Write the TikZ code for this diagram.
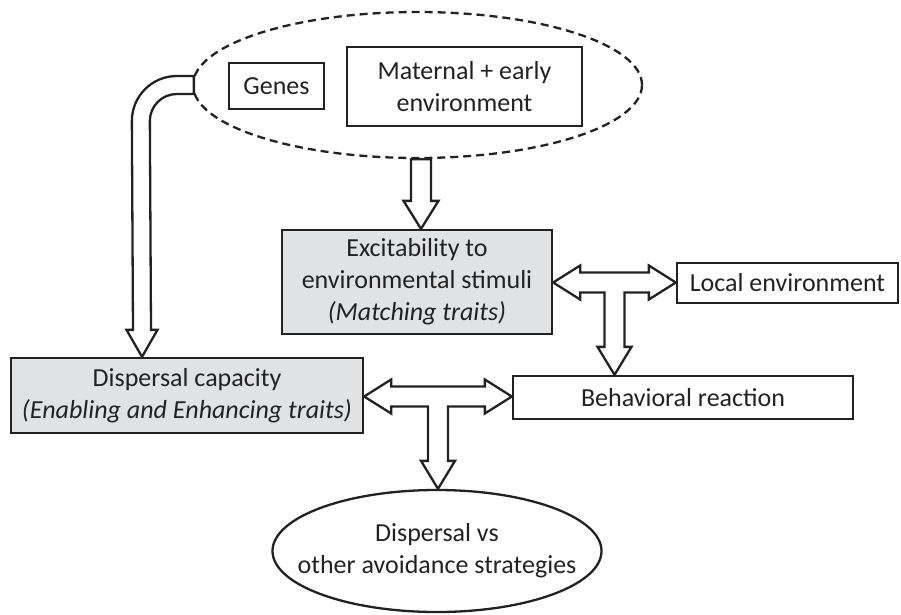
\documentclass[tikz,border=0pt]{standalone}
\usepackage{fontspec}
\setmainfont{Carlito}
\usetikzlibrary{shapes.geometric,calc}
\definecolor{boxgray}{HTML}{E1E2E4}
\definecolor{ink}{HTML}{222222}
\newcommand\Tblock[3]{%
 \draw[blk] let \p1=(#1.east), \p2=(#2.west), \p3=(#3.north), \p4=($(\p1)!.5!(\p2)$) in
 (\x1,\y4) -- (\x1+27pt,\y4+17pt) -- (\x1+27pt,\y4+10pt) -- (\x2-27pt,\y4+10pt) -- (\x2-27pt,\y4+17pt)
 -- (\x2,\y4) -- (\x2-27pt,\y4-17pt) -- (\x2-27pt,\y4-10pt) -- (\x4+10pt,\y4-10pt) -- (\x4+10pt,\y3+28pt)
 -- (\x4+17pt,\y3+28pt) -- (\x4,\y3) -- (\x4-17pt,\y3+28pt) -- (\x4-10pt,\y3+28pt) -- (\x4-10pt,\y4-10pt)
 -- (\x1+27pt,\y4-10pt) -- (\x1+27pt,\y4-17pt) -- cycle;}
\newcommand\Dblock[3]{%
 \draw[blk] let \p1=($(#1)+(#3,0)$), \p2=($(#2)+(#3,0)$) in
 (\x2-10pt,\y1) -- (\x2+10pt,\y1) -- (\x2+10pt,\y2+28pt) -- (\x2+17.5pt,\y2+28pt) -- (\x2,\y2)
 -- (\x2-17.5pt,\y2+28pt) -- (\x2-10pt,\y2+28pt) -- cycle;}
\begin{document}
\begin{tikzpicture}[x=1pt,y=-1pt,
  font=\fontsize{26}{32}\selectfont,
  box/.style={draw=ink, line width=2.3pt, text=ink, align=center, inner sep=0pt},
  blk/.style={draw=ink, fill=white, line width=2.3pt, line join=miter},
  oval/.style={draw=ink, line width=2.3pt, ellipse, inner sep=0pt}]
\useasboundingbox (0,0) rectangle (901,614);
% top dashed ellipse
\node[oval, dash pattern=on 8pt off 5pt, minimum width=449pt, minimum height=146pt] (src) at (417.5,85) {};
\node[box, minimum width=95pt, minimum height=46pt] (genes) at (276.5,86) {Genes};
\node[box, minimum width=235pt, minimum height=79pt] (mat) at (464.5,86.5) {Maternal + early\\environment};
% middle boxes
\node[box, fill=boxgray, minimum width=270pt, minimum height=104pt] (exc) at (417,282)
  {Excitability to\\environmental stimuli\\\textit{(Matching traits)}};
\node[box, minimum width=221pt, minimum height=40pt] (loc) at (787.5,283) {Local environment};
\node[box, minimum width=340pt, minimum height=43pt] (beh) at (683,397.5) {Behavioral reaction};
\node[box, fill=boxgray, minimum width=352pt, minimum height=75pt] (disp) at (187,395.5)
  {Dispersal capacity\\\textit{(Enabling and Enhancing traits)}};
% bottom ellipse
\node[oval, minimum width=329pt, minimum height=122pt] (out) at (437,551) {};
\node[text=ink, align=center, inner sep=0pt] (outtxt) at (out.center) {Dispersal vs\\other avoidance strategies};
% block arrows
\Dblock{src.south}{exc.north}{4}
\Tblock{exc}{loc}{beh}
\Tblock{disp}{beh}{out}
% curved arrow from ellipse to dispersal capacity
\coordinate (ct) at ($(disp.north)+(-45,0)$);
\coordinate (a0) at ($(src.west)+(2,-9)$);
\draw[blk] (a0) -- ++(-17,0) arc[start angle=90,end angle=180,radius=45pt]
  -- ($(ct)+(-9,-27)$) -- ($(ct)+(-15.5,-27)$) -- (ct) -- ($(ct)+(15.5,-27)$) -- ($(ct)+(9,-27)$)
  -- ($(a0)+(-44,45)$) arc[start angle=180,end angle=90,radius=27pt] -- ($(a0)+(0,18)$) -- cycle;
\end{tikzpicture}
\end{document}
